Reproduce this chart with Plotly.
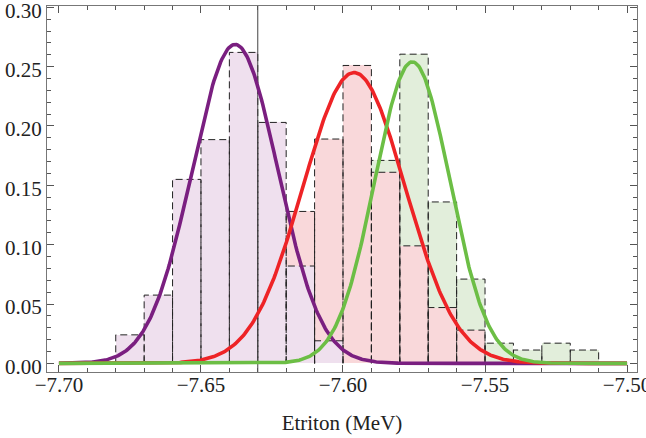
import numpy as np
import plotly.graph_objects as go

# ---- data ----
bin_left = [-7.68, -7.67, -7.66, -7.65, -7.64, -7.63, -7.62, -7.61, -7.60,
            -7.59, -7.58, -7.57, -7.56, -7.55, -7.54, -7.53, -7.52]
bin_width = 0.01
purple_hist = [0.024, 0.0575, 0.155, 0.1885, 0.262, 0.203, 0.082, 0.019, 0,
               0, 0, 0, 0, 0, 0, 0, 0]
red_hist = [0, 0, 0, 0, 0, 0, 0.128, 0.189, 0.251,
            0.161, 0.099, 0.047, 0.028, 0, 0, 0, 0]
green_hist = [0, 0, 0, 0, 0, 0, 0, 0, 0,
              0.171, 0.2605, 0.136, 0.071, 0.017, 0.0112, 0.017, 0.0112]

# Gaussian fit parameters: (amplitude, mean, sigma)
purple_fit = (0.2687, -7.6380, 0.0151)
red_fit = (0.2450, -7.5961, 0.0180)
green_fit = (0.2540, -7.5756, 0.0132)

reference_E = -7.63
x_ticks = [-7.70, -7.65, -7.60, -7.55, -7.50]
y_ticks = [0.00, 0.05, 0.10, 0.15, 0.20, 0.25, 0.30]

fills = {"purple": "#EFE0EE", "red": "#F9D8DA", "green": "#E2EEDB"}
lines = {"purple": "#7A1F80", "red": "#EE2326", "green": "#6CBE45"}

fig = go.Figure()


def add_hist(values, name):
    xs = [l + bin_width / 2 for l, v in zip(bin_left, values) if v > 0]
    ys = [v for v in values if v > 0]
    fig.add_trace(go.Bar(x=xs, y=ys, width=bin_width, base=0,
                         marker=dict(color=fills[name], line=dict(width=0)),
                         showlegend=False, hoverinfo="skip"))
    ox, oy = [], []
    for l, v in zip(bin_left, values):
        if v <= 0:
            continue
        ox += [l, l, l + bin_width, l + bin_width, None]
        oy += [0, v, v, 0, None]
    fig.add_trace(go.Scatter(x=ox, y=oy, mode="lines",
                             line=dict(color="#222222", width=1, dash="7px,4px"),
                             showlegend=False, hoverinfo="skip"))


add_hist(green_hist, "green")
add_hist(red_hist, "red")
add_hist(purple_hist, "purple")

fig.add_trace(go.Scatter(x=[reference_E, reference_E], y=[-0.01, 0.31], mode="lines",
                         line=dict(color="#444444", width=1),
                         showlegend=False, hoverinfo="skip"))

xc = np.linspace(-7.70, -7.50, 500)
for name, (a, m, s) in [("purple", purple_fit), ("red", red_fit), ("green", green_fit)]:
    fig.add_trace(go.Scatter(x=xc, y=a * np.exp(-0.5 * ((xc - m) / s) ** 2),
                             mode="lines", line=dict(color=lines[name], width=3.6),
                             showlegend=False, hoverinfo="skip"))

font = dict(family="Liberation Serif, Times New Roman, serif", size=21, color="#222")

fig.update_layout(
    width=646, height=438,
    margin=dict(l=47, r=9, t=6, b=66),
    paper_bgcolor="white", plot_bgcolor="white",
    barmode="overlay", bargap=0,
    font=font,
    xaxis=dict(range=[-7.7042, -7.4965], tickvals=x_ticks, tickformat=".2f",
               ticks="inside", ticklen=7, tickcolor="#555", mirror="ticks",
               showline=True, linecolor="#777", linewidth=1, showgrid=False,
               zeroline=False, automargin=False, ticklabeloverflow="allow",
               ticklabelstandoff=-6,
               minor=dict(dtick=0.01, tick0=-7.70, ticks="inside", ticklen=4,
                          tickcolor="#555", showgrid=False),
               title=dict(text="Etriton (MeV)", standoff=19,
                          font=dict(family="Liberation Serif, serif", size=21, color="#222"))),
    yaxis=dict(range=[-0.0073, 0.3011], tickvals=y_ticks, tickformat=".2f",
               ticks="inside", ticklen=7, tickcolor="#555", mirror="ticks",
               showline=True, linecolor="#777", linewidth=1, showgrid=False,
               zeroline=False, automargin=False, ticklabeloverflow="allow",
               ticklabelstandoff=0, ticklabelshift=3,
               minor=dict(dtick=0.01, tick0=0, ticks="inside", ticklen=4,
                          tickcolor="#555", showgrid=False)),
)

fig.write_html("out.html", config={"displayModeBar": False},
               post_script="document.body.style.margin='0px';document.body.style.overflow='hidden';")
